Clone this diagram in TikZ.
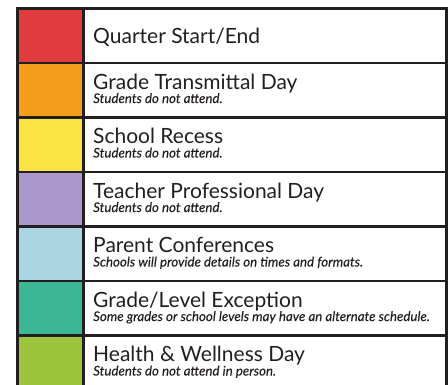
\documentclass[tikz,border=0pt]{standalone}
\usepackage{fontspec}
\setmainfont{Lato}
\newfontfamily\subfont[FakeBold=0.12]{Lato}
\definecolor{cRed}{HTML}{E03C3E}
\definecolor{cOrange}{HTML}{F59D1C}
\definecolor{cYellow}{HTML}{FDE445}
\definecolor{cPurple}{HTML}{AA98CA}
\definecolor{cBlue}{HTML}{A9D5E2}
\definecolor{cTeal}{HTML}{3BB796}
\definecolor{cGreen}{HTML}{9CC43D}
\definecolor{lineC}{HTML}{231F20}
\definecolor{txtC}{HTML}{231F20}
\begin{document}
\begin{tikzpicture}[x=1pt,y=-1pt,
  swatch/.style={draw=lineC,line width=2.5pt,minimum width=66pt,minimum height=54.5pt,inner sep=0pt,anchor=north west},
  cell/.style={draw=lineC,line width=2.5pt,fill=white,minimum width=363pt,minimum height=54.5pt,inner sep=0pt,anchor=north west},
  ttl/.style={anchor=base west,inner sep=0pt,text=txtC,font=\fontsize{21}{21}\selectfont},
  sub/.style={anchor=base west,inner sep=0pt,text=txtC,font=\fontsize{13.3}{13.3}\selectfont\subfont\itshape}]
\useasboundingbox (0,0) rectangle (448,384);
\fill[white] (0,0) rectangle (448,384);
\clip (0,0) rectangle (448,384);
% row 1
\node[swatch,fill=cRed] (s1) at (16,7) {};
\node[cell] (c1) at (82,7) {};
\node[ttl] (t1) at (93,43.3) {Quarter Start/End};
% row 2
\node[swatch,fill=cOrange] (s2) at (16,61.5) {};
\node[cell] (c2) at (82,61.5) {};
\node[ttl] (t2) at (93,89) {Grade Transmittal Day};
\node[sub] (u2) at (93,103) {Students do not attend.};
% row 3
\node[swatch,fill=cYellow] (s3) at (16,116) {};
\node[cell] (c3) at (82,116) {};
\node[ttl] (t3) at (93,143.5) {School Recess};
\node[sub] (u3) at (93,157.5) {Students do not attend.};
% row 4
\node[swatch,fill=cPurple] (s4) at (16,170.5) {};
\node[cell] (c4) at (82,170.5) {};
\node[ttl] (t4) at (93,198) {Teacher Professional Day};
\node[sub] (u4) at (93,212) {Students do not attend.};
% row 5
\node[swatch,fill=cBlue] (s5) at (16,225) {};
\node[cell] (c5) at (82,225) {};
\node[ttl] (t5) at (93,252.5) {Parent Conferences};
\node[sub] (u5) at (93,266.5) {Schools will provide details on times and formats.};
% row 6
\node[swatch,fill=cTeal] (s6) at (16,279.5) {};
\node[cell] (c6) at (82,279.5) {};
\node[ttl] (t6) at (93,307) {Grade/Level Exception};
\node[sub] (u6) at (93,321) {Some grades or school levels may have an alternate schedule.};
% row 7
\node[swatch,fill=cGreen] (s7) at (16,334) {};
\node[cell] (c7) at (82,334) {};
\node[ttl] (t7) at (93,361.5) {Health \& Wellness Day};
\node[sub] (u7) at (93,375.5) {Students do not attend in person.};
\end{tikzpicture}
\end{document}
